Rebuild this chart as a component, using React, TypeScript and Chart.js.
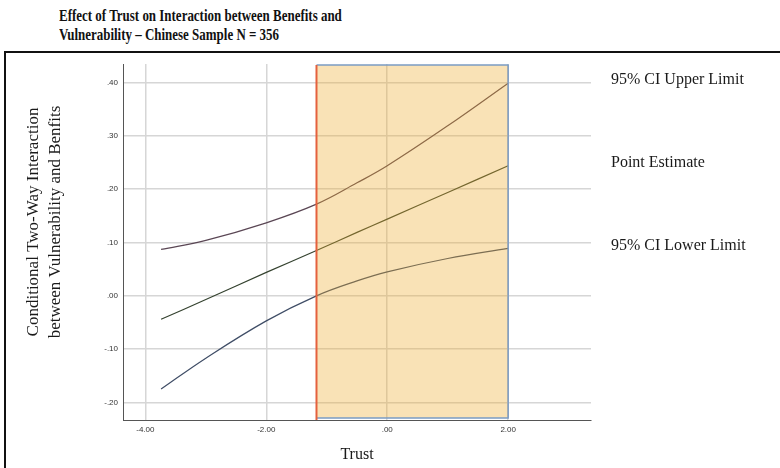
import React, { useEffect, useRef } from "react";
import { Chart, registerables } from "chart.js";

Chart.register(...registerables);

const TITLE_LINES = [
  "Effect of Trust on Interaction between Benefits and",
  "Vulnerability \u2013 Chinese Sample N = 356",
];
const Y_TITLE = ["Conditional Two-Way Interaction", "between Vulnerability and Benfits"];
const X_TITLE = "Trust";

const TRUST = [-3.74, -3, -2, -1.17, -0.5, 0, 1, 2];
const UPPER = [0.087, 0.104, 0.137, 0.172, 0.212, 0.244, 0.319, 0.399];
const POINT = [-0.044, -0.007, 0.044, 0.085, 0.119, 0.144, 0.194, 0.244];
const LOWER = [-0.175, -0.117, -0.047, 0.0, 0.028, 0.045, 0.070, 0.089];
const SERIES_LABELS = ["95% CI Upper Limit", "Point Estimate", "95% CI Lower Limit"];

const X_TICKS = [-4, -2, 0, 2];
const Y_TICKS = [-0.2, -0.1, 0, 0.1, 0.2, 0.3, 0.4];
const X_RANGE = [-4.37, 3.37];
const Y_RANGE = [-0.233, 0.435];
const REGION = [-1.17, 2.0]; // significance region (Johnson-Neyman point to max Trust)

const fmt = (v: number) => {
  const s = Math.abs(v) < 1e-9 ? "0.00" : v.toFixed(2);
  return s.replace(/^(-?)0\./, "$1.");
};

const regionPlugin = {
  id: "regionBox",
  afterDatasetsDraw(chart: any) {
    const { ctx, chartArea, scales } = chart;
    const x0 = scales.x.getPixelForValue(REGION[0]);
    const x1 = scales.x.getPixelForValue(REGION[1]);
    const top = chartArea.top + 1;
    const bottom = chartArea.bottom - 2;
    ctx.save();
    ctx.fillStyle = "rgba(238,172,46,0.35)";
    ctx.fillRect(x0, top, x1 - x0, bottom - top);
    ctx.strokeStyle = "#7b9cc4";
    ctx.lineWidth = 1.5;
    ctx.beginPath();
    ctx.moveTo(x0, top);
    ctx.lineTo(x1, top);
    ctx.lineTo(x1, bottom);
    ctx.lineTo(x0, bottom);
    ctx.stroke();
    ctx.strokeStyle = "#e4613d";
    ctx.lineWidth = 2;
    ctx.beginPath();
    ctx.moveTo(x0, top);
    ctx.lineTo(x0, chartArea.bottom);
    ctx.stroke();
    ctx.restore();
  },
  afterDraw(chart: any) {
    const { ctx, chartArea, scales } = chart;
    ctx.save();
    ctx.font = '16px "Liberation Serif", "Times New Roman", serif';
    ctx.fillStyle = "#1a1a1a";
    ctx.textBaseline = "middle";
    ctx.textAlign = "left";
    chart.data.datasets.forEach((ds: any) => {
      const last = ds.data[ds.data.length - 1];
      const y = scales.y.getPixelForValue(last.y) - 3;
      ctx.fillText(ds.label, chartArea.right + 20, y);
    });
    // y-axis title (two lines, rotated)
    ctx.font = '17px "Liberation Serif", "Times New Roman", serif';
    ctx.textAlign = "center";
    const cy = chartArea.top + 158;
    Y_TITLE.forEach((line, i) => {
      ctx.save();
      ctx.translate(34 + i * 22, cy);
      ctx.rotate(-Math.PI / 2);
      ctx.fillText(line, 0, 0);
      ctx.restore();
    });
    ctx.restore();
  },
};

export default function App() {
  const ref = useRef<HTMLCanvasElement | null>(null);

  useEffect(() => {
    document.body.style.margin = "0";
    const mk = (ys: number[]) => TRUST.map((x, i) => ({ x, y: ys[i] }));
    const line = (label: string, ys: number[], color: string) => ({
      label,
      data: mk(ys),
      borderColor: color,
      borderWidth: 1.2,
      pointRadius: 0,
      tension: 0.4,
      fill: false,
    });
    const chart = new Chart(ref.current as HTMLCanvasElement, {
      type: "line",
      data: {
        datasets: [
          line(SERIES_LABELS[0], UPPER, "#5a4654"),
          line(SERIES_LABELS[1], POINT, "#34422f"),
          line(SERIES_LABELS[2], LOWER, "#3f4d66"),
        ],
      },
      options: {
        animation: false,
        responsive: false,
        devicePixelRatio: 1,
        layout: { padding: { left: 0, top: 64, right: 189, bottom: 0 } },
        plugins: { legend: { display: false }, tooltip: { enabled: false }, title: { display: false } },
        scales: {
          x: {
            type: "linear",
            min: X_RANGE[0],
            max: X_RANGE[1],
            afterBuildTicks: (s: any) => { s.ticks = X_TICKS.map((v) => ({ value: v })); },
            afterFit: (s: any) => { s.height = 48; },
            grid: { color: "#d6d6d6", lineWidth: 1.5, drawTicks: false },
            border: { color: "#555555", width: 1 },
            ticks: {
              padding: 5,
              color: "#333333",
              font: { family: '"Liberation Sans", Arial, sans-serif', size: 8 },
              callback: (v: any) => fmt(Number(v)),
            },
            title: {
              display: true,
              text: X_TITLE,
              color: "#1a1a1a",
              font: { family: '"Liberation Serif", "Times New Roman", serif', size: 16 },
              padding: { top: 0, bottom: 4 },
            },
          },
          y: {
            type: "linear",
            min: Y_RANGE[0],
            max: Y_RANGE[1],
            afterBuildTicks: (s: any) => { s.ticks = Y_TICKS.map((v) => ({ value: v })); },
            afterFit: (s: any) => { s.width = 123; },
            grid: { color: "#d6d6d6", lineWidth: 1.5, drawTicks: false },
            border: { color: "#555555", width: 1 },
            ticks: {
              padding: 5,
              color: "#333333",
              font: { family: '"Liberation Sans", Arial, sans-serif', size: 8 },
              callback: (v: any) => fmt(Number(v)),
            },
            title: { display: false },
          },
        },
      },
      plugins: [regionPlugin],
    } as any);
    return () => chart.destroy();
  }, []);

  return (
    <div style={{ position: "fixed", left: 0, top: 0, width: 780, height: 468, background: "#fff", overflow: "hidden" }}>
      <div style={{ position: "absolute", left: 4, top: 51, width: 800, height: 450, borderLeft: "2px solid #111", borderTop: "2px solid #111" }} />
      <div style={{ position: "absolute", left: 59, top: 6, fontFamily: '"Liberation Serif", "Times New Roman", serif', fontWeight: "bold", fontSize: 16, lineHeight: "19px", color: "#111", transform: "scaleX(0.81)", transformOrigin: "left top", whiteSpace: "nowrap" }}>
        <div>{TITLE_LINES[0]}</div>
        <div>{TITLE_LINES[1]}</div>
      </div>
      <canvas ref={ref} width={780} height={468} style={{ position: "absolute", left: 0, top: 0, width: 780, height: 468 }} />
    </div>
  );
}
